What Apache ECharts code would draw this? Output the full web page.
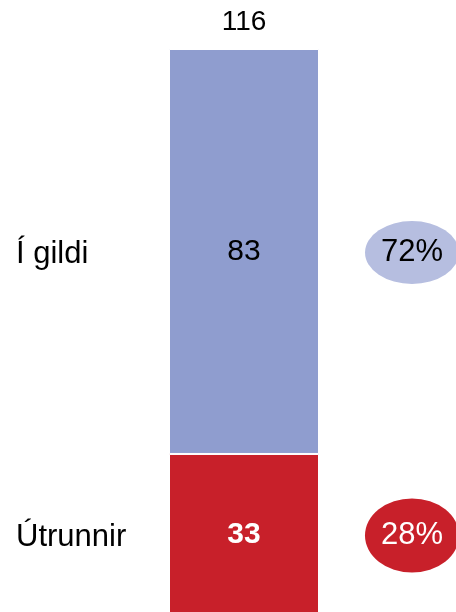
<!DOCTYPE html>
<html>
<head>
<meta charset="utf-8">
<script src="https://cdn.jsdelivr.net/npm/echarts@6/dist/echarts.min.js"></script>
<style>
  html, body { margin: 0; padding: 0; background: #fff; }
  #chart { width: 456px; height: 612px; }
</style>
</head>
<body>
<div id="chart"></div>
<script>
// data
var names = ['Útrunnir', 'Í gildi']   // bottom -> top
var counts = [33, 83]
var barColors = ['#c8202a', '#8f9dcf']
var bubbleColors = ['#c8202a', '#b6bee0']
var pctTextColors = ['#fff', '#000']
var slots = ['names', 'bar', 'pct']

var total = counts.reduce(function (a, b) { return a + b }, 0)
// midpoints of each stacked segment
var mids = []
var acc = 0
counts.forEach(function (c) { mids.push(acc + c / 2); acc += c })

var font = "'Liberation Sans', Arial, sans-serif"
var chart = echarts.init(document.getElementById('chart'))

var series = []
counts.forEach(function (c, i) {
  series.push({
    name: names[i],
    type: 'bar',
    stack: 'all',
    barWidth: 150,
    data: [null, c, null],
    itemStyle: { color: barColors[i], borderColor: '#fff', borderWidth: 1 },
    label: {
      show: true,
      position: 'inside',
      fontFamily: font,
      fontSize: 30,
      color: i === 0 ? '#fff' : '#000',
      fontWeight: i === 0 ? 'bold' : 'normal'
    }
  })
})
// total on top
series.push({
  type: 'scatter',
  symbolSize: 0,
  itemStyle: { opacity: 1 },
  data: [['bar', total]],
  label: {
    show: true,
    position: 'top',
    distance: 13,
    formatter: String(total),
    fontFamily: font,
    fontSize: 28,
    color: '#000'
  }
})
// category names at left
series.push({
  type: 'scatter',
  symbolSize: 0,
  itemStyle: { opacity: 1 },
  data: names.map(function (n, i) { return { value: ['names', mids[i]], name: n } }),
  label: {
    show: true,
    position: [-60, 3],
    align: 'left',
    verticalAlign: 'middle',
    formatter: '{b}',
    fontFamily: font,
    fontSize: 31,
    color: '#000'
  }
})
// percentage bubbles
series.push({
  type: 'scatter',
  symbol: 'circle',
  itemStyle: { opacity: 1 },
  data: counts.map(function (c, i) {
    return {
      value: ['pct', mids[i]],
      symbolSize: [94, 63],
      symbolOffset: [0, 1],
      itemStyle: { color: bubbleColors[i], opacity: 1 },
      label: { color: pctTextColors[i] }
    }
  }),
  label: {
    show: true,
    position: 'inside',
    formatter: function (p) { return Math.round(counts[p.dataIndex] / total * 100) + '%' },
    fontFamily: font,
    fontSize: 31
  }
})
series[series.length - 1].data[0].symbolSize = [94, 74]

var option = {
  animation: false,
  grid: { left: -8, right: -40, top: 49, bottom: -3, outerBoundsMode: 'none' },
  xAxis: {
    type: 'category',
    data: slots,
    show: false
  },
  yAxis: {
    type: 'value',
    min: 0,
    max: total,
    show: false
  },
  series: series
}
chart.setOption(option)
</script>
</body>
</html>
